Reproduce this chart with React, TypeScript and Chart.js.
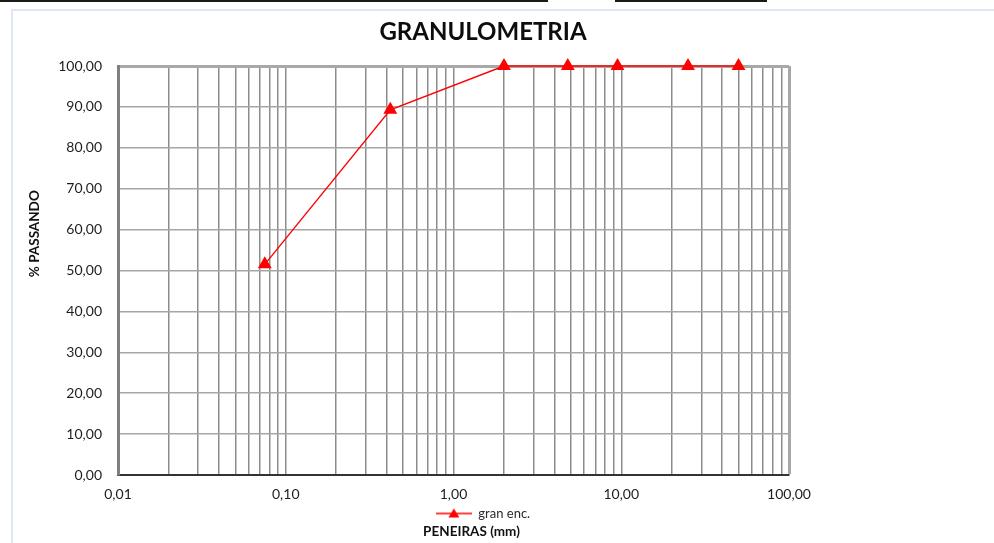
import { useEffect, useRef } from 'react';
import { Chart, registerables } from 'chart.js';

Chart.register(...registerables);

// Sieve openings (mm) and cumulative % passing
const SIEVE_MM = [0.075, 0.42, 2.0, 4.8, 9.5, 25, 50];
const PASSING_PCT = [51.5, 89.3, 100, 100, 100, 100, 100];
const SERIES_LABEL = 'gran enc.';

// Log-axis decades (labelled) and the in-between multipliers (grid only)
const X_MAJOR_TICKS = [0.01, 0.1, 1, 10, 100];
const X_MINOR_STEPS = [2, 3, 4, 5, 6, 7, 8, 9];
const Y_MIN = 0;
const Y_MAX = 100;
const Y_STEP = 10;

const TITLE = 'GRANULOMETRIA';
const X_TITLE = 'PENEIRAS (mm)';
const Y_TITLE = '% PASSANDO';

const FONT = 'Lato, "Open Sans", sans-serif';
const RED = '#ff0000';
const TEXT = '#1e1e1e';

const fmt = (v: number) => Number(v).toFixed(2).replace('.', ',');
const isMajor = (v: number) => X_MAJOR_TICKS.some((m) => Math.abs(v - m) / m < 1e-9);

function buildXTicks() {
  const out: { value: number; major: boolean }[] = [];
  for (let i = 0; i < X_MAJOR_TICKS.length; i++) {
    const d = X_MAJOR_TICKS[i];
    out.push({ value: d, major: true });
    if (i < X_MAJOR_TICKS.length - 1) {
      for (const m of X_MINOR_STEPS) out.push({ value: d * m, major: false });
    }
  }
  return out;
}

// Small line-with-triangle glyph used as the legend symbol
function legendGlyph() {
  const c = document.createElement('canvas');
  c.width = 36;
  c.height = 14;
  const g = c.getContext('2d')!;
  g.strokeStyle = RED;
  g.lineWidth = 1.5;
  g.beginPath();
  g.moveTo(0, 7);
  g.lineTo(36, 7);
  g.stroke();
  g.fillStyle = RED;
  g.beginPath();
  g.moveTo(18, 2);
  g.lineTo(23.5, 11);
  g.lineTo(12.5, 11);
  g.closePath();
  g.fill();
  return c;
}

// Axis titles placed relative to the plot area
const axisTitles = {
  id: 'axisTitles',
  afterDraw(chart: any) {
    const { ctx, chartArea } = chart;
    ctx.save();
    ctx.fillStyle = '#111111';
    ctx.font = `bold 13.5px ${FONT}`;
    ctx.textAlign = 'center';
    ctx.textBaseline = 'middle';
    const cx = (chartArea.left + chartArea.right) / 2 + 18;
    ctx.fillText(X_TITLE, cx, chart.height - 11);
    ctx.translate(chartArea.left - 83, chartArea.top + (chartArea.bottom - chartArea.top) * 0.41);
    ctx.rotate(-Math.PI / 2);
    ctx.font = `bold 13.5px ${FONT}`;
    ctx.fillText(Y_TITLE, 0, 0);
    ctx.restore();
  },
};

export default function App() {
  const ref = useRef<HTMLCanvasElement | null>(null);

  useEffect(() => {
    if (!ref.current) return;
    const glyph = legendGlyph();
    const points = SIEVE_MM.map((x, i) => ({ x, y: PASSING_PCT[i] }));

    const chart = new Chart(ref.current, {
      type: 'scatter',
      data: {
        datasets: [
          {
            label: SERIES_LABEL,
            data: points,
            showLine: true,
            borderColor: RED,
            backgroundColor: RED,
            borderWidth: 1.4,
            pointStyle: 'triangle',
            pointRadius: 8,
            pointBorderWidth: 0,
            pointBackgroundColor: RED,
            clip: false,
          } as any,
        ],
      },
      options: {
        animation: false,
        responsive: false,
        layout: { padding: { left: 12, right: 40, top: 0, bottom: 13 } },
        plugins: {
          title: {
            display: true,
            text: TITLE,
            color: '#0d0d0d',
            font: { family: FONT, size: 24, weight: 'bold' },
            padding: { top: 17.6, bottom: 19.6 },
          },
          legend: {
            position: 'bottom',
            labels: {
              usePointStyle: true,
              pointStyleWidth: 36,
              padding: 6,
              color: '#2a2a2a',
              font: { family: FONT, size: 13 },
              generateLabels: () => [
                {
                  text: SERIES_LABEL,
                  pointStyle: glyph as any,
                  fillStyle: RED,
                  strokeStyle: RED,
                  lineWidth: 0,
                  hidden: false,
                  datasetIndex: 0,
                  fontColor: '#2a2a2a',
                } as any,
              ],
            },
          },
          tooltip: { enabled: false },
        },
        scales: {
          x: {
            type: 'logarithmic',
            position: 'bottom',
            min: X_MAJOR_TICKS[0],
            max: X_MAJOR_TICKS[X_MAJOR_TICKS.length - 1],
            afterBuildTicks: (s: any) => {
              s.ticks = buildXTicks();
            },
            afterFit: (s: any) => {
              s.height = 26;
            },
            ticks: {
              autoSkip: false,
              maxRotation: 0,
              minRotation: 0,
              padding: 11,
              color: TEXT,
              font: { family: FONT, size: 14 },
              callback: (v: any) => (isMajor(Number(v)) ? fmt(Number(v)) : ''),
            },
            grid: {
              drawTicks: false,
              color: (c: any) => (c.tick && c.tick.value === 100 ? '#a8a8a8' : '#8c8c8c'),
              lineWidth: (c: any) => (c.tick && c.tick.value === 100 ? 3 : 1.5),
            },
            border: { color: '#333333', width: 2 },
          },
          y: {
            min: Y_MIN,
            max: Y_MAX,
            afterFit: (s: any) => {
              s.width = 106;
            },
            ticks: {
              stepSize: Y_STEP,
              padding: 16,
              color: TEXT,
              font: { family: FONT, size: 14 },
              callback: (v: any) => fmt(Number(v)),
            },
            grid: {
              drawTicks: false,
              color: (c: any) => (c.tick && c.tick.value === Y_MAX ? '#a8a8a8' : '#a6a6a6'),
              lineWidth: (c: any) => (c.tick && c.tick.value === Y_MAX ? 3 : 1.5),
            },
            border: { color: '#808080', width: 3 },
          },
          yR: {
            position: 'right',
            display: true,
            min: 0,
            max: 1,
            ticks: { display: false },
            grid: { display: false, drawTicks: false },
            border: { display: false },
            afterFit: (s: any) => {
              s.width = 165;
            },
          },
        },
      } as any,
      plugins: [axisTitles],
    });

    return () => chart.destroy();
  }, []);

  return (
    <div
      style={{
        position: 'fixed',
        left: 0,
        top: 0,
        width: 994,
        height: 543,
        background: '#ffffff',
        overflow: 'hidden',
      }}
    >
      <canvas ref={ref} width={994} height={543} style={{ position: 'absolute', left: 0, top: 0 }} />
      {/* sheet cell borders above the chart object */}
      <div style={{ position: 'absolute', left: 0, top: 0, width: 548, height: 2, background: '#1a1a1a' }} />
      <div style={{ position: 'absolute', left: 615, top: 0, width: 152, height: 2, background: '#1a1a1a' }} />
      {/* chart object frame */}
      <div
        style={{
          position: 'absolute',
          left: 11,
          top: 9,
          width: 994,
          height: 543,
          borderTop: '2px solid #dde6f5',
          borderLeft: '2px solid #dde6f5',
          pointerEvents: 'none',
        }}
      />
    </div>
  );
}
